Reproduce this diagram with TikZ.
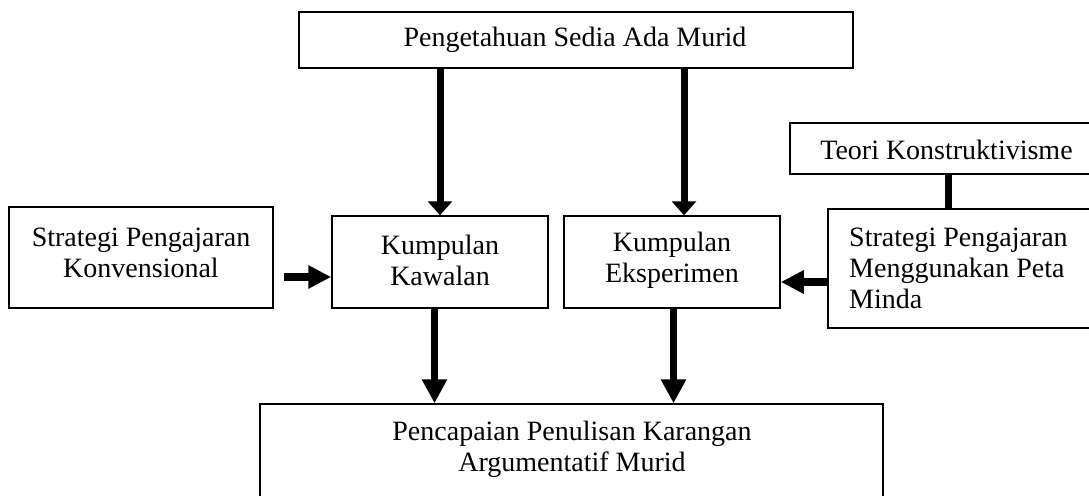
\documentclass[tikz,border=0pt]{standalone}
\usepackage{fontspec}
\setmainfont{Liberation Serif}
\usetikzlibrary{arrows.meta}
\begin{document}
\begin{tikzpicture}[x=1pt,y=-1pt,
  box/.style={draw=black,line width=1.5pt,rectangle,inner sep=0pt,fill=white},
  txt/.style={inner sep=0pt,align=center,font=\fontsize{28}{31}\selectfont},
  txtl/.style={inner sep=0pt,align=left,font=\fontsize{28}{31}\selectfont},
  arrv/.style={line width=7pt,-{Triangle[length=14pt,width=24pt]}},
  arrb/.style={line width=7pt,-{Triangle[length=24pt,width=24pt]}},
  arrh/.style={line width=8pt,-{Triangle[length=23pt,width=22pt]}},
  link/.style={line width=7pt}]
\useasboundingbox (0,0) rectangle (1089,495);
\fill[white] (0,0) rectangle (1089,495);
\clip (0,0) rectangle (1089,495);
% boxes
\node[box,minimum width=554pt,minimum height=56pt] (prior) at (576,40) {};
\node[txt] (priort) at (575,40) {Pengetahuan Sedia Ada Murid};
\node[box,minimum width=313pt,minimum height=51pt] (teori) at (946.5,148.5) {};
\node[txt] (teorit) at (946.5,150) {Teori Konstruktivisme};
\node[box,minimum width=264pt,minimum height=101pt] (konv) at (141,257.5) {};
\node[txt] (konvt) at (141,252.5) {Strategi Pengajaran\\Konvensional};
\node[box,minimum width=216pt,minimum height=92pt] (kawalan) at (440,262) {};
\node[txt] (kawalant) at (440,260) {Kumpulan\\Kawalan};
\node[box,minimum width=216pt,minimum height=92pt] (eksp) at (672,262) {};
\node[txt] (ekspt) at (672,260) {Kumpulan\\Eksperimen};
\node[box,minimum width=275pt,minimum height=119pt] (minda) at (965.5,268.5) {};
\node[txtl,anchor=west] (mindat) at (849,268.5) {Strategi Pengajaran\\Menggunakan Peta\\Minda};
\node[box,minimum width=623pt,minimum height=130pt] (hasil) at (571.5,469) {};
\node[txt] (hasilt) at (572,449) {Pencapaian Penulisan Karangan\\Argumentatif Murid};
% reference coordinates for connector columns
\coordinate (c1) at (440,0);
\coordinate (c2) at (684,0);
\coordinate (c3) at (948,0);
\coordinate (c4) at (434.5,0);
\coordinate (c5) at (673.5,0);
\coordinate (r1) at (284,277);
\coordinate (r2) at (0,282);
% connectors
\draw[arrv] (prior.south -| c1) -- (kawalan.north -| c1);
\draw[arrv] (prior.south -| c2) -- (eksp.north -| c2);
\draw[link] (teori.south -| c3) -- (minda.north -| c3);
\draw[arrh] (r1) -- (kawalan.west |- r1);
\draw[arrh] (minda.west |- r2) -- (eksp.east |- r2);
\draw[arrb] (kawalan.south -| c4) -- (hasil.north -| c4);
\draw[arrb] (eksp.south -| c5) -- (hasil.north -| c5);
\end{tikzpicture}
\end{document}
